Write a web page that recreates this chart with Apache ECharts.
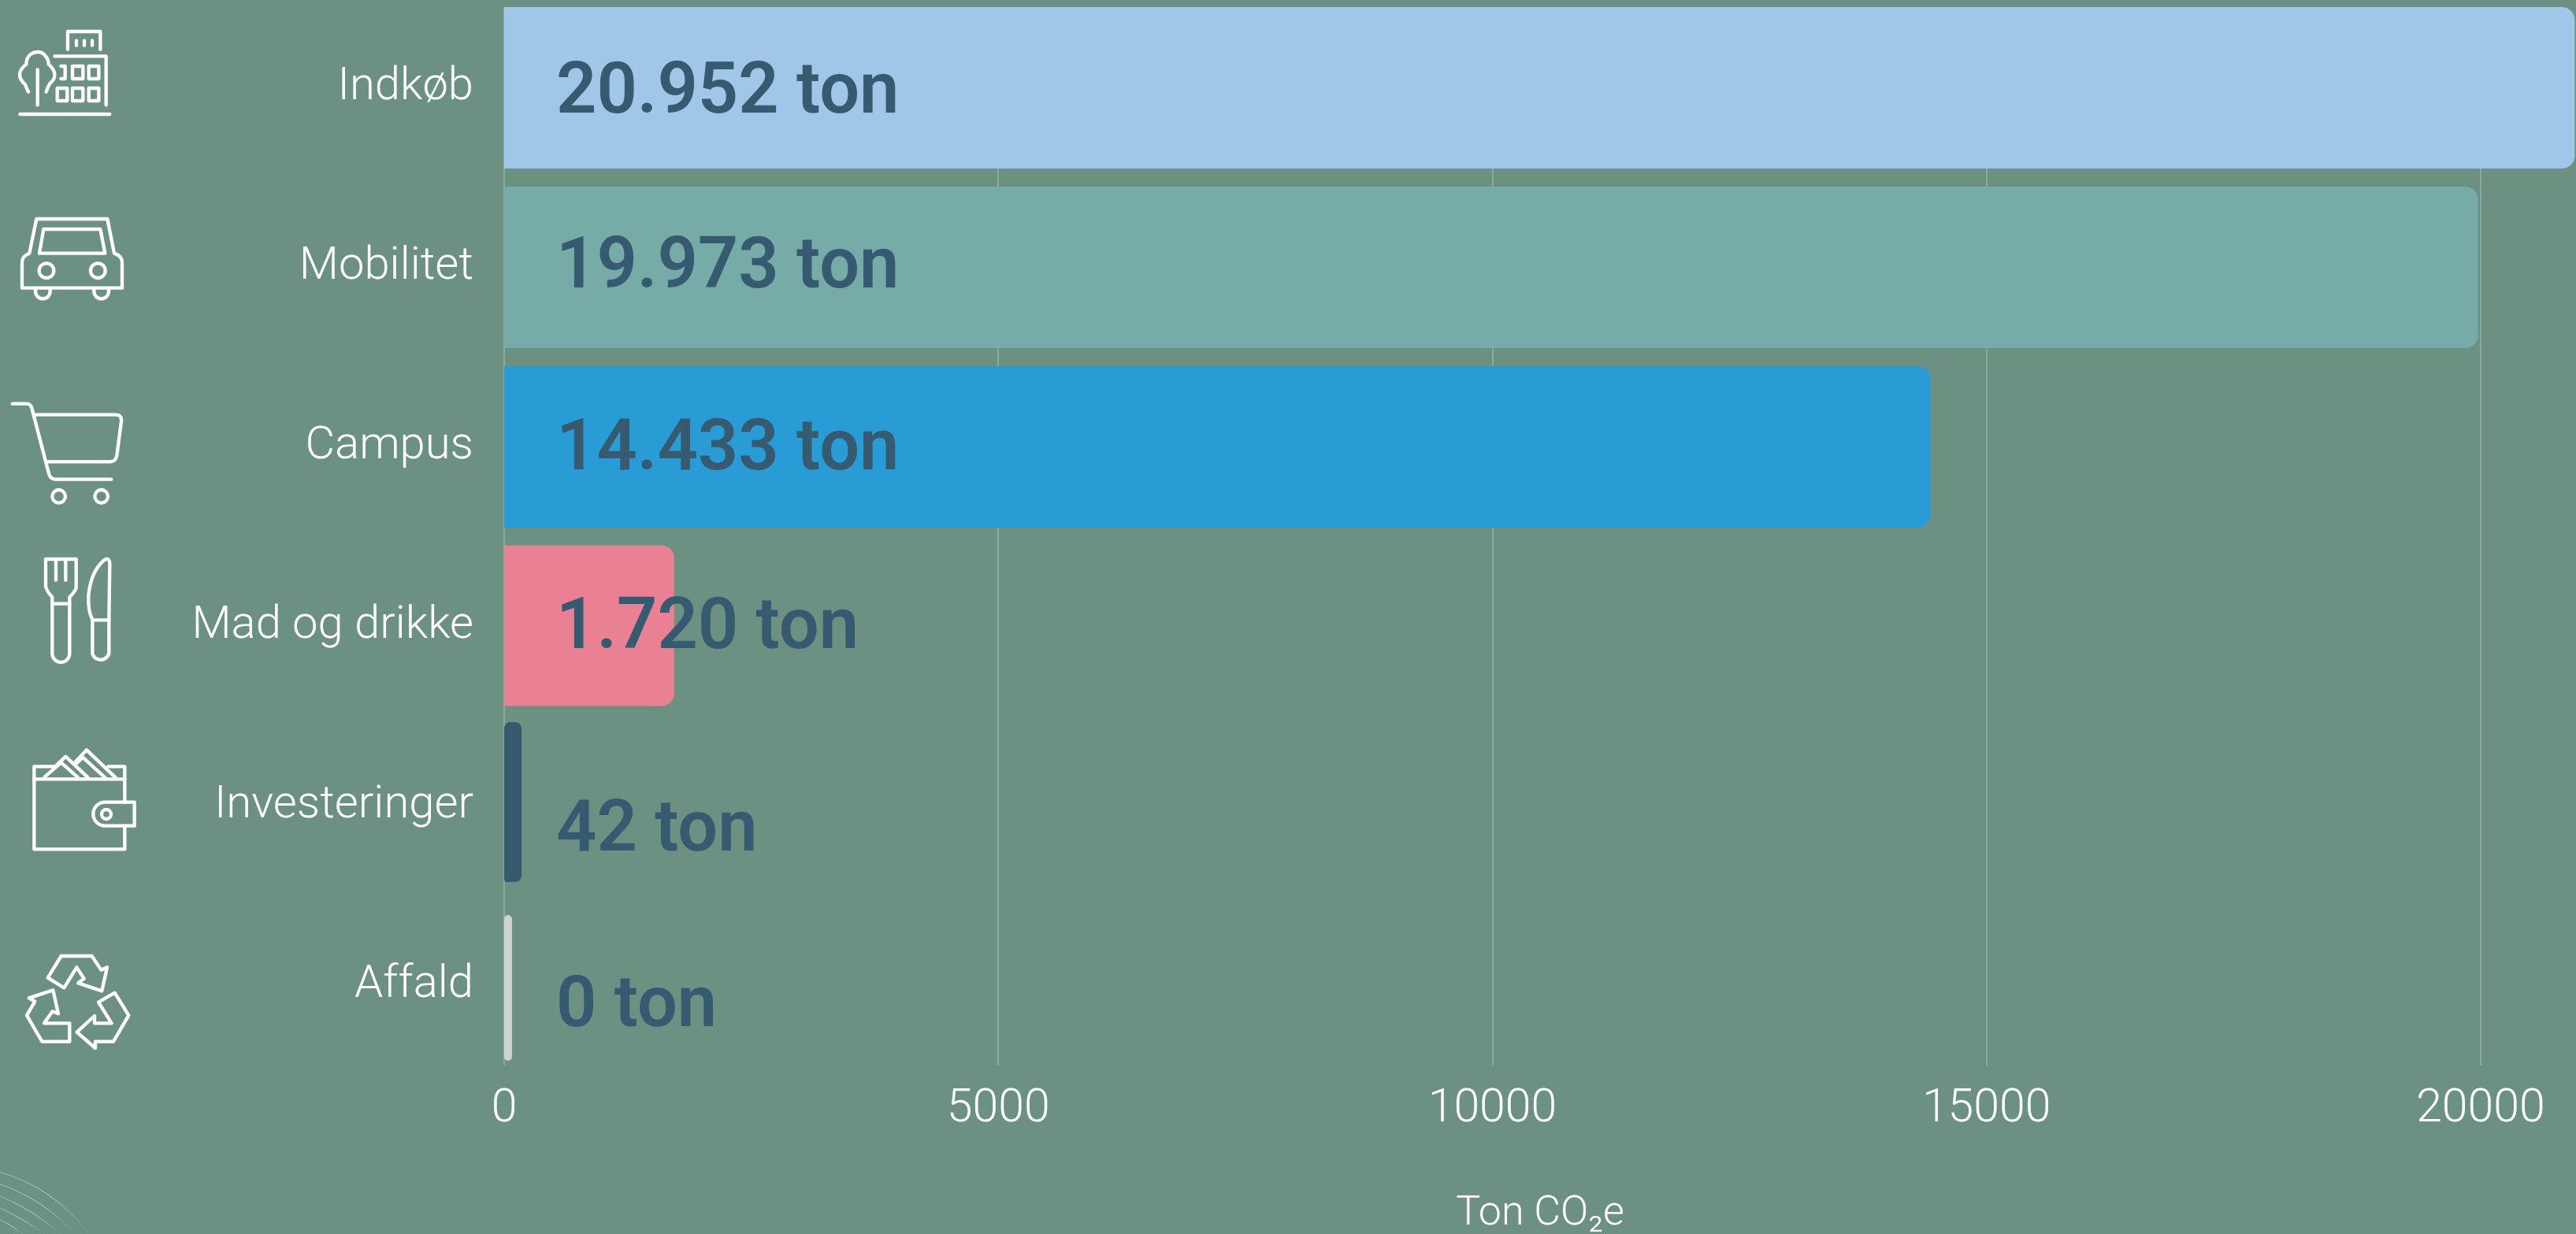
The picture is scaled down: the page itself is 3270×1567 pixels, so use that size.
<!DOCTYPE html>
<html><head><meta charset="utf-8">
<style>html,body{margin:0;padding:0;background:#6c9182}#c{width:3270px;height:1567px}</style>
<script src="https://cdn.jsdelivr.net/npm/echarts@6/dist/echarts.min.js"></script>
</head><body><div id="c"></div>
<script>
// ---- data ----
const categories = ['Indkøb','Mobilitet','Campus','Mad og drikke','Investeringer','Affald'];
const values = [20952,19973,14433,1720,42,0];
const xTicks = [0,5000,10000,15000,20000];
const axisTitle = 'Ton CO₂e';
// ---- styles ----
const barColors = ['#a1c7e8','#76aba7','#299cd6','#e98093','#365b70','#cdd3ce'];
const barThickness = [205,205,205,204,203,185];
const barMinLength = [0,0,0,0,22,10];
const barShift = [0,0,0,-1,-5,3];
const labelShift = [9,3,6,5,34,29];
const barRadius = [[0,16,16,0],[0,16,16,0],[0,16,16,0],[0,16,16,0],[8,8,8,4],[5,5,5,5]];
const bg = '#6c9182', white = '#ffffff', ink = '#365b71';
const FONT = 'Roboto';

const fmt = v => String(v).replace(/\B(?=(\d{3})+$)/g,'.') + ' ton';

// decorative line icons, drawn in 3x crop units
const icons = [
 [20, ['M258 128V60H382V128','M291 95V113','M321 95V113','M351 95V113','M208 154H404V340','M232 192H248V240H232',
   'M276 192H316V240H276Z','M338 192H376V240H338Z','M218 276H256V324H218Z','M276 276H316V324H276Z','M338 276H376V324H338Z',
   'M108 290Q98 270 96 262C70 240 65 210 100 185C100 150 125 138 145 138C165 138 185 160 185 185C215 210 215 240 190 258Q180 275 176 290',
   'M143 205V340','M76 375H418']],
 [250,['M139 84H409L435 215Q465 225 465 250V347H84V250Q84 225 112 215Z','M166 123H382L400 215H150Z',
   'M149 281A28 28 0 1 0 205 281A28 28 0 1 0 149 281Z','M345 281A28 28 0 1 0 401 281A28 28 0 1 0 345 281Z',
   'M135 350V360A28 28 0 0 0 191 360V350','M358 350V360A28 28 0 0 0 414 360V350']],
 [490,['M47 68H100Q118 68 122 88L185 330Q190 356 212 356H424','M130 110H440Q464 110 462 135L445 265Q440 289 420 289H182',
   'M199 421A25 25 0 1 0 249 421A25 25 0 1 0 199 421Z','M361 421A25 25 0 1 0 411 421A25 25 0 1 0 361 421Z']],
 [690,['M174 60H290V170Q285 185 265 205V420A33 33 0 0 1 199 420V205Q180 185 174 165Z','M213 65V140','M250 65V140','M200 230H265',
   'M415 290V420A33 33 0 0 1 352 420V290Q335 260 337 200Q345 110 395 65Q415 50 418 75Z','M352 292H415']],
 [940,['M130 148V100H210','M412 100H475V236','M475 326V415H130V148','M135 148H475','M475 236H512V326H400A45 45 0 0 1 400 236H475',
   'M387 282A18 18 0 1 0 423 282A18 18 0 1 0 387 282Z','M170 140L233 85L297 142','M210 100L250 62L335 142','M285 85L330 37L440 142','M290 90L315 65L400 142']],
 [1190,['M233 72H350L385 125L408 115L388 205L298 175L320 158L292 115L244 193L182 155Z',
   'M110 232L202 202L222 292L200 283L168 328H265V398H160L102 298L133 245Z',
   'M437 212L490 298L432 398H363V423L293 362L360 300V328H425L375 248Z']]
];
const arcs = ['M0 65Q200 120 340 300','M0 110Q170 170 285 300','M0 155Q130 210 230 300','M0 200Q100 250 170 300','M0 245Q50 270 85 300'];

let shapeId = 0;
function pathShape(d){
  const name='deco'+(shapeId++);
  echarts.graphic.registerShape(name, echarts.graphic.extendPath(d,{}));
  return name;
}
const graphics = [
  {type:'rect',z:1,silent:true,shape:{x:0,y:0,width:3270,height:9},style:{fill:bg}},
  {type:'rect',z:1,silent:true,shape:{x:0,y:1353,width:3270,height:20},style:{fill:bg}}
];
icons.forEach(([oy,paths])=>paths.forEach(d=>graphics.push({
  type:pathShape(d),z:5,silent:true,x:0,y:oy,scaleX:1/3,scaleY:1/3,
  style:{fill:'none',stroke:white,lineWidth:13,lineCap:'round',lineJoin:'round'}
})));
arcs.forEach(d=>graphics.push({
  type:pathShape(d),z:5,silent:true,x:0,y:1467,scaleX:1/3,scaleY:1/3,
  style:{fill:'none',lineWidth:3,
    stroke:{type:'linear',x:0,y:0,x2:1,y2:1,colorStops:[{offset:0,color:'rgba(255,255,255,0.35)'},{offset:.55,color:'rgba(255,255,255,0.55)'},{offset:1,color:'rgba(255,255,255,0)'}]}}
}));

const chart = echarts.init(document.getElementById('c'),null,{renderer:'canvas'});
chart.setOption({
  animation:false,
  backgroundColor:bg,
  textStyle:{fontFamily:FONT},
  graphic:graphics,
  grid:{left:640,right:0,top:-2.5,height:1368,containLabel:false,outerBoundsMode:'none'},
  xAxis:{
    type:'value',min:0,max:20965,interval:xTicks[1]-xTicks[0],position:'bottom',
    axisLine:{show:false},axisTick:{show:false},
    splitLine:{show:true,showMaxLine:false,lineStyle:{color:'rgba(255,255,255,0.22)',width:2}},
    axisLabel:{show:true,showMaxLabel:false,showMinLabel:true,color:white,fontSize:59,fontWeight:300,fontFamily:FONT,margin:14,hideOverlap:false,formatter:v=>String(v)},
    name:axisTitle,nameLocation:'middle',nameGap:150,
    nameTextStyle:{color:white,fontSize:52,fontWeight:300,fontFamily:FONT}
  },
  yAxis:{
    type:'category',inverse:true,data:categories,
    axisLine:{show:false},axisTick:{show:false},splitLine:{show:false},
    axisLabel:{color:white,fontSize:58,fontWeight:300,fontFamily:FONT,margin:39,padding:[0,0,11,0]}
  },
  series:[{
    type:'custom',
    clip:false,
    encode:{x:0,y:1},
    data:values.map((v,i)=>[v,i]),
    renderItem(params,api){
      const i=api.value(1), v=api.value(0);
      const p0=api.coord([0,i]), p1=api.coord([v,i]);
      const len=Math.max(p1[0]-p0[0],barMinLength[i]);
      const h=barThickness[i], cy=p0[1]+barShift[i];
      return {type:'group',children:[
        {type:'rect',shape:{x:p0[0],y:cy-h/2,width:len,height:h,r:barRadius[i]},style:{fill:barColors[i]}},
        {type:'text',style:{x:p0[0]+66,y:p0[1]+labelShift[i],text:fmt(v),fill:ink,font:'600 90px '+FONT,textAlign:'left',textVerticalAlign:'middle'}}
      ]};
    }
  }]
});
</script></body></html>
